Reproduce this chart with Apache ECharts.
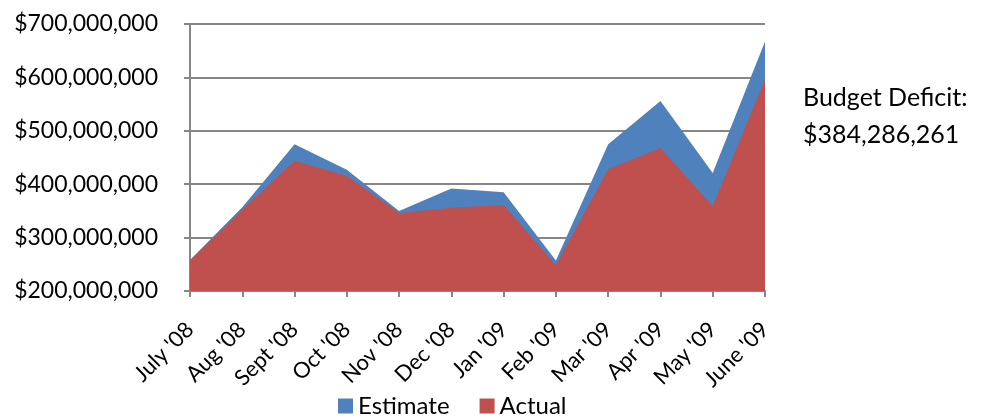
<!DOCTYPE html>
<html>
<head>
<meta charset="utf-8">
<script src="https://cdn.jsdelivr.net/npm/echarts@6/dist/echarts.min.js"></script>
<style>
  html, body { margin: 0; padding: 0; background: #fff; }
  #chart { width: 982px; height: 420px; }
</style>
</head>
<body>
<div id="chart"></div>
<script>
var months = ["July '08", "Aug '08", "Sept '08", "Oct '08", "Nov '08", "Dec '08",
  "Jan '09", "Feb '09", "Mar '09", "Apr '09", "May '09", "June '09"];
var estimate = [258e6, 357e6, 475e6, 427e6, 350e6, 392e6, 385e6, 257e6, 475e6, 556e6, 421e6, 667e6];
var actual = [257e6, 352e6, 444e6, 416e6, 346e6, 356e6, 361e6, 248e6, 428e6, 468e6, 359e6, 596e6];
var deficitText = ["Budget Deficit:", "$384,286,261"];

var font = "Lato, 'Open Sans', sans-serif";
var gray = "#868686";

function money(v) {
  return "$" + String(Math.round(v)).replace(/\B(?=(\d{3})+(?!\d))/g, ",");
}

var chart = echarts.init(document.getElementById("chart"));
chart.setOption({
  animation: false,
  textStyle: { fontFamily: font },
  grid: { left: 190, right: 217, top: 24, bottom: 129, containLabel: false },
  legend: {
    top: 394,
    left: 338,
    padding: 0,
    icon: "rect",
    itemWidth: 15,
    itemHeight: 15,
    itemGap: 30,
    textStyle: { fontSize: 24, color: "#000", fontFamily: font },
    data: ["Estimate", "Actual"]
  },
  xAxis: {
    type: "category",
    data: months,
    boundaryGap: false,
    axisLine: { lineStyle: { color: gray, width: 2 } },
    axisTick: { show: true, length: 6, alignWithLabel: true, lineStyle: { color: gray, width: 2 } },
    axisLabel: { rotate: 45, fontSize: 22, color: "#000", margin: 35, interval: 0 }
  },
  yAxis: {
    type: "value",
    min: 200e6,
    max: 700e6,
    interval: 100e6,
    axisLine: { show: true, lineStyle: { color: gray, width: 2 } },
    axisTick: { show: true, length: 6, lineStyle: { color: gray, width: 2 } },
    splitLine: { lineStyle: { color: gray, width: 2 } },
    axisLabel: { fontSize: 23, color: "#000", margin: 32, formatter: money }
  },
  graphic: [
    {
      type: "text",
      left: 803,
      top: 79,
      style: { text: deficitText.join("\n"), fontSize: 25, lineHeight: 37, fill: "#000", fontFamily: font }
    }
  ],
  series: [
    {
      name: "Estimate",
      type: "line",
      data: estimate,
      showSymbol: false,
      lineStyle: { width: 0 },
      itemStyle: { color: "#4F81BD" },
      areaStyle: { color: "#4F81BD", opacity: 1, origin: "start" }
    },
    {
      name: "Actual",
      type: "line",
      data: actual,
      showSymbol: false,
      lineStyle: { width: 0 },
      itemStyle: { color: "#C0504D" },
      areaStyle: { color: "#C0504D", opacity: 1, origin: "start" }
    }
  ]
});
</script>
</body>
</html>
